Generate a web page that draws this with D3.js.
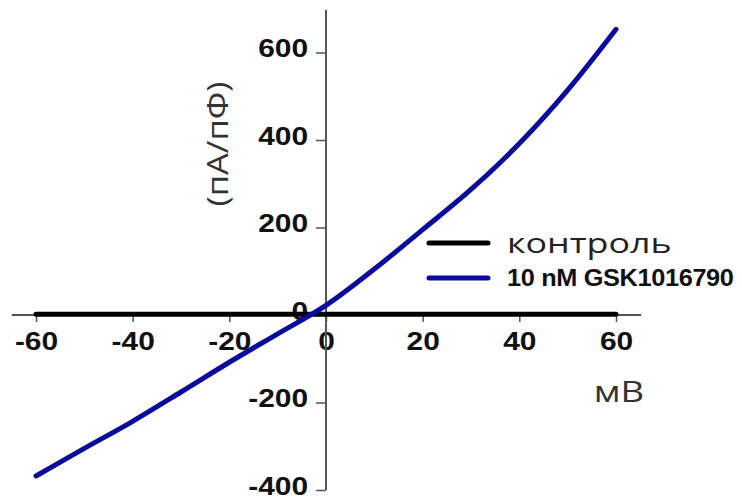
<!DOCTYPE html>
<html>
<head>
<meta charset="utf-8">
<style>
  body { margin: 0; background: #fff; }
  .tick text { font-family: "Liberation Sans", Arial, sans-serif; font-weight: bold; font-size: 26px; fill: #111; }
</style>
</head>
<body>
<svg class="iv-plot" width="742" height="499"></svg>

<script src="https://d3js.org/d3.v7.min.js"></script>
<script>
  // membrane potential (mV) and current density (pA/pF)
  const voltage = [-60, -50, -40, -30, -20, -10, 0, 10, 20, 30, 40, 50, 60];
  const gskCurrent = [-368, -305, -243, -176, -108, -43, 22, 105, 195, 287, 392, 514, 653];
  const controlCurrent = [2, 2, 2, 2, 2, 2, 2, 2, 2, 2, 2, 2, 2];

  const xTicks = [-60, -40, -20, 0, 20, 40, 60];
  const yTicks = [-400, -200, 0, 200, 400, 600];
  const seriesNames = ["контроль", "10 nM GSK1016790"];

  const svg = d3.select("svg");
  const stretch = 1.15; // the original figure is a bit wider than tall

  const x = d3.scaleLinear().domain([-60, 60]).range([36, 616]);
  const y = d3.scaleLinear().domain([-400, 600]).range([490, 52.5]);

  // axes cross at origin
  const xAxis = svg.append("g")
    .attr("transform", `translate(0,${y(0)})`)
    .call(d3.axisBottom(x).tickValues(xTicks).tickSize(7).tickPadding(10).tickFormat(d => String(d)));
  xAxis.select(".domain").remove();
  xAxis.selectAll(".tick line").attr("stroke", "#555").attr("stroke-width", 1.5);
  xAxis.selectAll(".tick text").attr("transform", `scale(${stretch},1)`);

  const yAxis = svg.append("g")
    .attr("transform", `translate(${x(0)},0)`)
    .call(d3.axisLeft(y).tickValues(yTicks).tickSize(10).tickPadding(8).tickFormat(d => String(d)));
  yAxis.select(".domain").remove();
  yAxis.selectAll(".tick line").attr("stroke", "#555").attr("stroke-width", 1.5);
  yAxis.selectAll(".tick text")
    .attr("x", 0)
    .attr("dy", "0.17em")
    .attr("transform", `translate(-18,0) scale(${stretch},1)`);

  svg.append("line")
    .attr("x1", x(-65)).attr("x2", x(65.2))
    .attr("y1", y(0)).attr("y2", y(0))
    .attr("stroke", "#555").attr("stroke-width", 2);

  svg.append("line")
    .attr("x1", x(0)).attr("x2", x(0))
    .attr("y1", y(697)).attr("y2", y(-400))
    .attr("stroke", "#555").attr("stroke-width", 2);

  const line = d3.line()
    .x(d => x(d[0]))
    .y(d => y(d[1]))
    .curve(d3.curveCatmullRom);

  svg.append("path")
    .datum(d3.zip(voltage, controlCurrent))
    .attr("fill", "none")
    .attr("stroke", "#000")
    .attr("stroke-width", 5)
    .attr("stroke-linecap", "round")
    .attr("d", line);

  svg.append("path")
    .datum(d3.zip(voltage, gskCurrent))
    .attr("fill", "none")
    .attr("stroke", "#0a0a9c")
    .attr("stroke-width", 5)
    .attr("stroke-linecap", "round")
    .attr("d", line);

  // axis titles
  svg.append("text")
    .attr("transform", "translate(228,144) rotate(-90) scale(1.15,1)")
    .attr("text-anchor", "middle")
    .style("font-family", "'Open Sans', sans-serif")
    .style("font-size", "30px")
    .style("fill", "#333")
    .text("(пА/пФ)");

  svg.append("text")
    .attr("transform", "translate(619,402) scale(1.22,1)")
    .attr("text-anchor", "middle")
    .style("font-family", "'Open Sans', sans-serif")
    .style("font-size", "30px")
    .style("fill", "#333")
    .text("мВ");

  // legend
  const legend = svg.append("g");
  const legendColors = ["#000", "#0a0a9c"];
  const legendY = [243, 278];

  seriesNames.forEach((name, i) => {
    legend.append("line")
      .attr("x1", 429).attr("x2", 488)
      .attr("y1", legendY[i]).attr("y2", legendY[i])
      .attr("stroke", legendColors[i])
      .attr("stroke-width", 5)
      .attr("stroke-linecap", "round");
    legend.append("text")
      .attr("transform", `translate(507,${legendY[i]}) scale(${i === 0 ? 1.28 : 1.1},1)`)
      .attr("dy", "0.35em")
      .style("font-family", i === 0 ? "'Open Sans', sans-serif" : "'Liberation Sans', Arial, sans-serif")
      .style("font-weight", i === 0 ? "normal" : "bold")
      .style("font-size", i === 0 ? "28px" : "23px")
      .style("letter-spacing", i === 0 ? "0px" : "-0.3px")
      .style("fill", i === 0 ? "#222" : "#111")
      .text(name);
  });
</script>
</body>
</html>
